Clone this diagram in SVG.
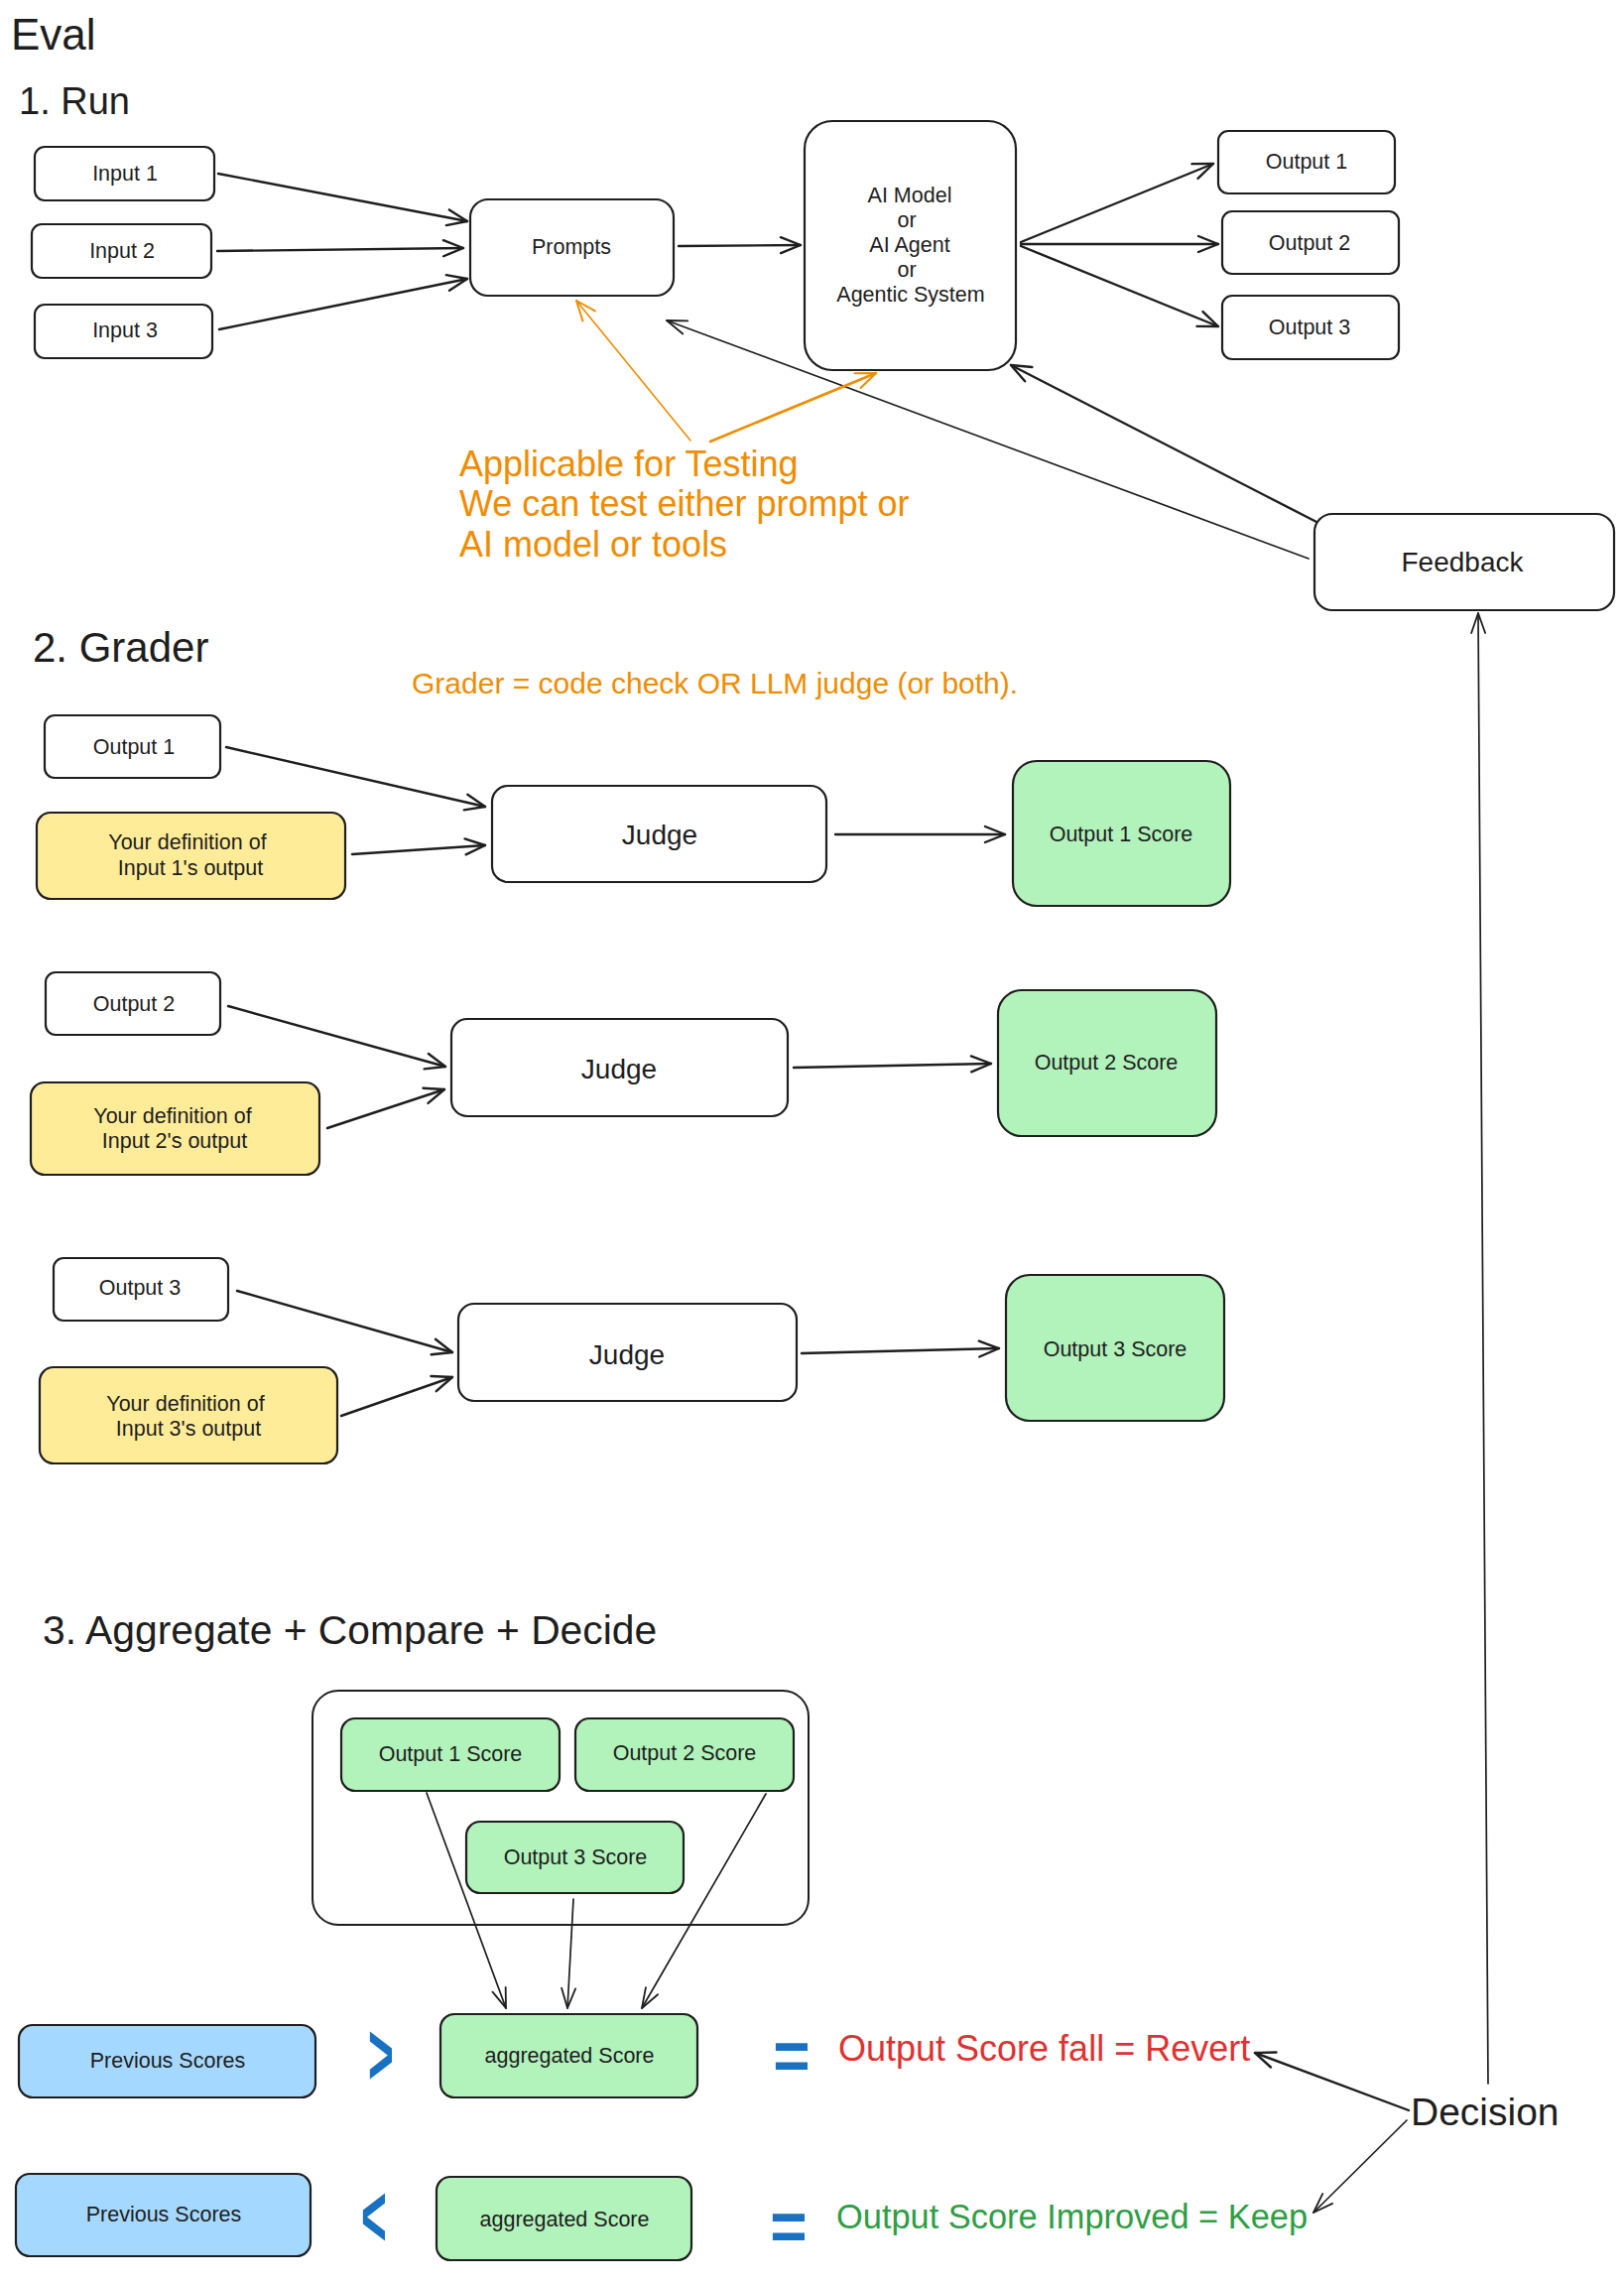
<svg xmlns="http://www.w3.org/2000/svg" width="1637" height="2301" viewBox="0 0 1637 2301">
<style>
text{font-family:"Liberation Sans",Arial,sans-serif;fill:#1e1e1e}
.lbl{font-size:21.5px;text-anchor:middle;dominant-baseline:central}
.big{font-size:28px}
.box{fill:#ffffff;stroke:#1e1e1e;stroke-width:2.2}
.yel{fill:#ffec99;stroke:#1e1e1e;stroke-width:2.2}
.grn{fill:#b2f2bb;stroke:#1e1e1e;stroke-width:2.2}
.blu{fill:#a5d8ff;stroke:#1e1e1e;stroke-width:2.2}
.c{fill:none;stroke:#1e1e1e;stroke-width:2.4;stroke-linecap:round;marker-end:url(#ah)}
.thin{stroke-width:1.7;marker-end:url(#ahs)}
.or{fill:none;stroke:#f08c00;stroke-linecap:round;marker-end:url(#aho)}
.ot{fill:#f08c00}
.sym{fill:#1971c2;font-weight:bold;text-anchor:middle;dominant-baseline:central}
</style>
<defs>
<marker id="ah" markerUnits="userSpaceOnUse" markerWidth="30" markerHeight="30" viewBox="-25 -15 30 30" refX="0" refY="0" orient="auto" overflow="visible"><path d="M-20,-8 L0,0 L-20,8" fill="none" stroke="#1e1e1e" stroke-width="2.4" stroke-linecap="round" stroke-linejoin="round"/></marker>
<marker id="ahs" markerUnits="userSpaceOnUse" markerWidth="30" markerHeight="30" viewBox="-25 -15 30 30" refX="0" refY="0" orient="auto" overflow="visible"><path d="M-20,-7 L0,0 L-20,7" fill="none" stroke="#1e1e1e" stroke-width="1.8" stroke-linecap="round" stroke-linejoin="round"/></marker>
<marker id="aho" markerUnits="userSpaceOnUse" markerWidth="30" markerHeight="30" viewBox="-25 -15 30 30" refX="0" refY="0" orient="auto" overflow="visible"><path d="M-20,-8 L0,0 L-20,8" fill="none" stroke="#f08c00" stroke-width="2" stroke-linecap="round" stroke-linejoin="round"/></marker>
</defs>
<rect width="1637" height="2301" fill="#ffffff"/>

<g id="titles">
<text x="11" y="50" font-size="44">Eval</text>
<text x="19" y="115" font-size="38">1. Run</text>
<text x="33" y="667" font-size="42">2. Grader</text>
<text x="43" y="1657" font-size="40.8">3. Aggregate + Compare + Decide</text>
</g>

<g id="connectors">
<line class="c" x1="220" y1="175" x2="471" y2="223"/>
<line class="c" x1="219" y1="253" x2="467" y2="250"/>
<line class="c" x1="221" y1="332" x2="471" y2="281"/>
<line class="c" x1="684" y1="248" x2="807" y2="247"/>
<line class="c" x1="1029" y1="244" x2="1223" y2="165"/>
<line class="c" x1="1029" y1="246" x2="1228" y2="246"/>
<line class="c" x1="1029" y1="248" x2="1228" y2="329"/>
<line class="c thin" x1="1319" y1="563" x2="672" y2="323"/>
<line class="c" x1="1329" y1="527" x2="1019" y2="368"/>
<line class="or" stroke-width="1.6" x1="696" y1="444" x2="581" y2="303"/>
<line class="or" stroke-width="2.6" x1="716" y1="445" x2="883" y2="376"/>
<line class="c thin" x1="1500" y1="2100" x2="1490" y2="618"/>

<line class="c" x1="228" y1="753" x2="489" y2="813"/>
<line class="c" x1="355" y1="861" x2="489" y2="852"/>
<line class="c" x1="842" y1="841" x2="1013" y2="841"/>
<line class="c" x1="230" y1="1014" x2="449" y2="1075"/>
<line class="c" x1="330" y1="1137" x2="448" y2="1098"/>
<line class="c" x1="800" y1="1076" x2="999" y2="1072"/>
<line class="c" x1="239" y1="1301" x2="456" y2="1363"/>
<line class="c" x1="344" y1="1427" x2="456" y2="1388"/>
<line class="c" x1="808" y1="1364" x2="1007" y2="1359"/>

<line class="c thin" x1="430" y1="1807" x2="510" y2="2024"/>
<line class="c thin" x1="578" y1="1914" x2="572" y2="2024"/>
<line class="c thin" x1="772" y1="1808" x2="647" y2="2024"/>
<line class="c" x1="1420" y1="2127" x2="1265" y2="2069"/>
<line class="c thin" x1="1418" y1="2137" x2="1324" y2="2230"/>
</g>

<g id="input1"><rect class="box" x="35" y="148" width="181" height="54" rx="10"/><text class="lbl" x="126" y="175">Input 1</text></g>
<g id="input2"><rect class="box" x="32" y="226" width="181" height="54" rx="10"/><text class="lbl" x="123" y="253">Input 2</text></g>
<g id="input3"><rect class="box" x="35" y="307" width="179" height="54" rx="10"/><text class="lbl" x="126" y="333">Input 3</text></g>
<g id="prompts"><rect class="box" x="474" y="201" width="205" height="97" rx="18"/><text class="lbl" x="576" y="249">Prompts</text></g>
<g id="ai"><rect class="box" x="811" y="122" width="213" height="251" rx="28"/>
<text class="lbl" x="917" y="197">AI Model</text>
<text class="lbl" x="914" y="222">or</text>
<text class="lbl" x="917" y="247">AI Agent</text>
<text class="lbl" x="914" y="272">or</text>
<text class="lbl" x="918" y="297">Agentic System</text></g>
<g id="out1"><rect class="box" x="1228" y="132" width="178" height="63" rx="10"/><text class="lbl" x="1317" y="163">Output 1</text></g>
<g id="out2"><rect class="box" x="1232" y="213" width="178" height="63" rx="10"/><text class="lbl" x="1320" y="245">Output 2</text></g>
<g id="out3"><rect class="box" x="1232" y="298" width="178" height="64" rx="10"/><text class="lbl" x="1320" y="330">Output 3</text></g>
<g id="feedback"><rect class="box" x="1325" y="518" width="302" height="97" rx="18"/><text class="lbl big" x="1474" y="566">Feedback</text></g>

<g id="note-testing">
<text class="ot" x="463" y="480" font-size="36">Applicable for Testing</text>
<text class="ot" x="463" y="520" font-size="36">We can test either prompt or</text>
<text class="ot" x="463" y="561" font-size="36">AI model or tools</text>
</g>
<g id="note-grader"><text class="ot" x="415" y="699" font-size="30">Grader = code check OR LLM judge (or both).</text></g>

<g id="g-out1"><rect class="box" x="45" y="721" width="177" height="63" rx="10"/><text class="lbl" x="135" y="753">Output 1</text></g>
<g id="def1"><rect class="yel" x="37" y="819" width="311" height="87" rx="14"/><text class="lbl" x="189" y="849">Your definition of</text><text class="lbl" x="192" y="875">Input 1's output</text></g>
<g id="judge1"><rect class="box" x="496" y="792" width="337" height="97" rx="16"/><text class="lbl big" x="665" y="841">Judge</text></g>
<g id="score1"><rect class="grn" x="1021" y="767" width="219" height="146" rx="24"/><text class="lbl" x="1130" y="841">Output 1 Score</text></g>

<g id="g-out2"><rect class="box" x="46" y="980" width="176" height="63" rx="10"/><text class="lbl" x="135" y="1012">Output 2</text></g>
<g id="def2"><rect class="yel" x="31" y="1091" width="291" height="93" rx="14"/><text class="lbl" x="174" y="1125">Your definition of</text><text class="lbl" x="176" y="1150">Input 2's output</text></g>
<g id="judge2"><rect class="box" x="455" y="1027" width="339" height="98" rx="16"/><text class="lbl big" x="624" y="1077">Judge</text></g>
<g id="score2"><rect class="grn" x="1006" y="998" width="220" height="147" rx="24"/><text class="lbl" x="1115" y="1071">Output 2 Score</text></g>

<g id="g-out3"><rect class="box" x="54" y="1268" width="176" height="63" rx="10"/><text class="lbl" x="141" y="1298">Output 3</text></g>
<g id="def3"><rect class="yel" x="40" y="1378" width="300" height="97" rx="14"/><text class="lbl" x="187" y="1415">Your definition of</text><text class="lbl" x="190" y="1440">Input 3's output</text></g>
<g id="judge3"><rect class="box" x="462" y="1314" width="341" height="98" rx="16"/><text class="lbl big" x="632" y="1365">Judge</text></g>
<g id="score3"><rect class="grn" x="1014" y="1285" width="220" height="147" rx="24"/><text class="lbl" x="1124" y="1360">Output 3 Score</text></g>

<g id="scores-group"><rect x="315" y="1704" width="500" height="236" rx="26" fill="none" stroke="#1e1e1e" stroke-width="2"/></g>
<g id="s-out1"><rect class="grn" x="344" y="1732" width="220" height="73" rx="14"/><text class="lbl" x="454" y="1768">Output 1 Score</text></g>
<g id="s-out2"><rect class="grn" x="580" y="1732" width="220" height="73" rx="14"/><text class="lbl" x="690" y="1767">Output 2 Score</text></g>
<g id="s-out3"><rect class="grn" x="470" y="1836" width="219" height="72" rx="14"/><text class="lbl" x="580" y="1872">Output 3 Score</text></g>

<g id="prev1"><rect class="blu" x="19" y="2041" width="299" height="73" rx="14"/><text class="lbl" x="169" y="2077">Previous Scores</text></g>
<g id="agg1"><rect class="grn" x="444" y="2030" width="259" height="84" rx="14"/><text class="lbl" x="574" y="2072">aggregated Score</text></g>
<g id="prev2"><rect class="blu" x="16" y="2191" width="297" height="83" rx="14"/><text class="lbl" x="165" y="2232">Previous Scores</text></g>
<g id="agg2"><rect class="grn" x="440" y="2194" width="257" height="84" rx="14"/><text class="lbl" x="569" y="2237">aggregated Score</text></g>

<g id="symbols">
<text class="sym" font-size="52" transform="translate(384,2071) scale(0.85,1.7)">&gt;</text>
<text class="sym" font-size="52" transform="translate(377,2234) scale(0.85,1.7)">&lt;</text>
<text class="sym" font-size="64" transform="translate(798,2071) scale(1,1.1)">=</text>
<text class="sym" font-size="64" transform="translate(795,2243) scale(1,1.1)">=</text>
</g>

<g id="result-revert"><text x="845" y="2077" font-size="36" style="fill:#e03131">Output Score fall = Revert</text></g>
<g id="result-keep"><text x="843" y="2246" font-size="34.4" style="fill:#2f9e44">Output Score Improved = Keep</text></g>
<g id="decision"><text x="1422" y="2142" font-size="39">Decision</text></g>
</svg>
